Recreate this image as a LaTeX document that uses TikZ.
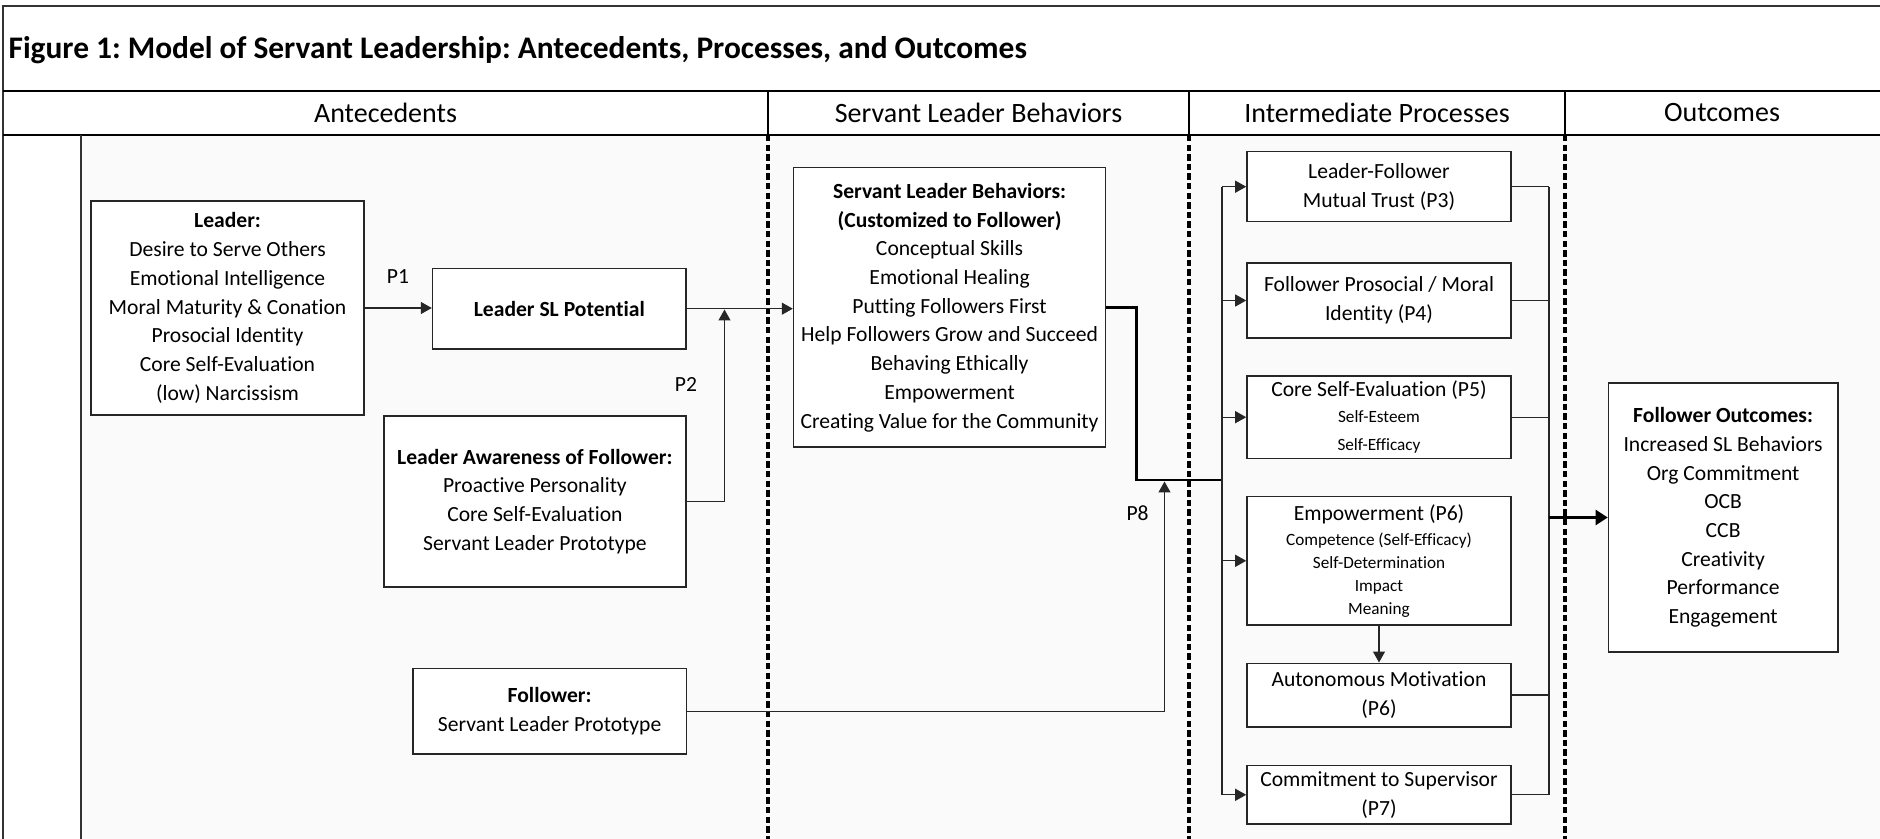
\documentclass[tikz,border=0pt]{standalone}
\usepackage{fontspec}
\setmainfont[Ligatures=NoCommon]{Carlito}
\usetikzlibrary{arrows.meta}
\tikzset{every picture/.style={line width=0.6pt}}
\frenchspacing
\newcommand{\bodyfont}{\fontsize{10.8}{14.35}\selectfont}
\newcommand{\smallfont}{\fontsize{8.6}{11.4}\selectfont}

\begin{document}
\begin{tikzpicture}[x=0.5pt,y=0.5pt,yscale=-1,xscale=1,
    box/.style={draw=black!85,line width=0.8pt,fill=white,align=center,inner sep=0pt,font=\bodyfont},
    conn/.style={draw=black!85,line width=0.6pt},
    arr/.style={conn,-{Triangle[length=5.5pt,width=6pt]}},
    bigarr/.style={draw=black,line width=1.1pt,-{Triangle[length=6pt,width=7.5pt]}},
    feed/.style={draw=black,line width=1.1pt},
    divider/.style={line width=2.2pt,dash pattern=on 3.2pt off 1.6pt},
    head/.style={font=\fontsize{14}{17}\selectfont,inner sep=0pt},
    plabel/.style={font=\bodyfont,inner sep=0pt}]
\useasboundingbox (0,0) rectangle (1880,839);

%Shape: Rectangle (background)
\fill[black!2] (81,135) rectangle (1880,839);
%Straight Lines (frame)
\draw[black!80,line width=0.9pt] (1880,6) -- (3,6) -- (3,839);
\draw[line width=0.8pt] (3,91) -- (1880,91);
\draw[line width=0.8pt] (3,135) -- (1880,135);
\draw[black!80] (81,135) -- (81,839);
\foreach \x in {768,1189,1565} {
  \draw (\x,91) -- (\x,135);
  \draw[divider] (\x,135) -- (\x,839);
}

% Title and column heads
\node[anchor=west,inner sep=0pt,font=\fontsize{15.7}{19}\selectfont\bfseries] (title) at (8,50) {Figure 1: Model of Servant Leadership: Antecedents, Processes, and Outcomes};
\node[head] (hante) at (385.5,113) {Antecedents};
\node[head] (hslb) at (978.5,113) {Servant Leader Behaviors};
\node[head] (hproc) at (1377,113) {Intermediate Processes};
\node[head] (hout) at (1722,113) {Outcomes};

%Shape: Rectangle
\node[box,minimum width=136.5pt,minimum height=107pt] (leader) at (227.5,308) {\textbf{Leader:}\\Desire to Serve Others\\Emotional Intelligence\\Moral Maturity \& Conation\\Prosocial Identity\\Core Self-Evaluation\\(low) Narcissism};
%Shape: Rectangle
\node[box,minimum width=126.7pt,minimum height=40.3pt,font=\bodyfont\bfseries] (slpot) at (559.3,308.7) {Leader SL Potential};
%Shape: Rectangle
\node[box,minimum width=151.2pt,minimum height=85.5pt] (aware) at (534.9,501.5) {\textbf{Leader Awareness of Follower:}\\Proactive Personality\\Core Self-Evaluation\\Servant Leader Prototype};
%Shape: Rectangle
\node[box,minimum width=136.8pt,minimum height=42.9pt] (follower) at (549.6,711.2) {\textbf{Follower:}\\Servant Leader Prototype};
%Shape: Rectangle
\node[box,minimum width=156pt,minimum height=139.8pt] (slb) at (949.6,307.5) {\textbf{Servant Leader Behaviors:}\\\textbf{(Customized to Follower)}\\Conceptual Skills\\Emotional Healing\\Putting Followers First\\Help Followers Grow and Succeed\\Behaving Ethically\\Empowerment\\Creating Value for the Community};

%Shape: Rectangle
\node[box,minimum width=132pt,minimum height=35pt] (trust) at (1379,186.7) {Leader-Follower\\Mutual Trust (P3)};
\node[box,minimum width=132pt,minimum height=37.5pt] (prosoc) at (1379,300.5) {Follower Prosocial / Moral\\Identity (P4)};
\node[box,minimum width=132pt,minimum height=41.2pt] (cse) at (1379,417.2) {Core Self-Evaluation (P5)\\[-1.6pt]{\smallfont Self-Esteem}\\{\smallfont Self-Efficacy}};
\node[box,minimum width=132pt,minimum height=64.2pt,font=\smallfont] (empow) at (1379,560.8) {{\bodyfont Empowerment (P6)}\\[1.4pt]Competence (Self-Efficacy)\\Self-Determination\\Impact\\Meaning};
\node[box,minimum width=132pt,minimum height=31.7pt] (auton) at (1379,695) {Autonomous Motivation\\(P6)};
\node[box,minimum width=132pt,minimum height=29.2pt] (commit) at (1379,794.8) {Commitment to Supervisor\\(P7)};

%Shape: Rectangle
\node[box,minimum width=114.6pt,minimum height=134.2pt] (outcomes) at (1723.1,517.5) {\textbf{Follower Outcomes:}\\Increased SL Behaviors\\Org Commitment\\OCB\\CCB\\Creativity\\Performance\\Engagement};

% Proposition labels
\node[plabel] (p1) at (398,276.7) {P1};
\node[plabel] (p2) at (686,384) {P2};
\node[plabel] (p8) at (1137.6,513) {P8};

\coordinate (p2end) at (724.5,309.5);
\coordinate (fork) at (1222,480);
\coordinate (p8end) at (1164.5,481.5);
\coordinate (bus) at (1549,517.5);

%Straight Lines
\draw[arr] (leader.east) -- (leader.east -| slpot.west);
\draw[arr] (slpot.east) -- (slpot.east -| slb.west);
\draw[arr] (aware.east) -| (p2end);
\draw[feed] (slb.east) -- ++(30,0) |- (fork);
\draw[arr] (follower.east) -| (p8end);
\draw[conn] (trust.west -| fork) -- (commit.west -| fork);
\foreach \n in {trust,prosoc,cse,empow,commit}
  \draw[arr] (\n.west -| fork) -- (\n.west);
\draw[arr] (empow.south) -- (auton.north);
\foreach \n in {trust,prosoc,cse,auton,commit}
  \draw[conn] (\n.east) -- (\n.east -| bus);
\draw[conn] (trust.east -| bus) -- (commit.east -| bus);
\draw[bigarr] (bus) -- (outcomes.west);

\end{tikzpicture}
\end{document}
